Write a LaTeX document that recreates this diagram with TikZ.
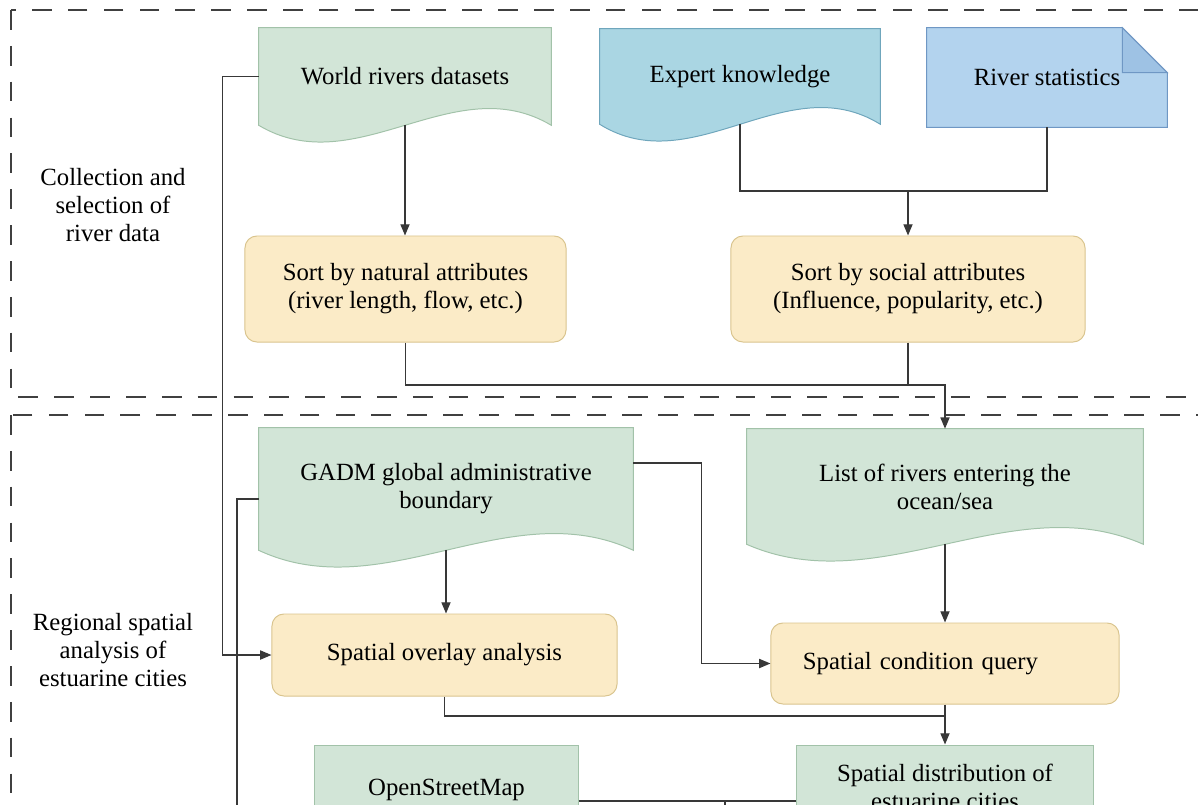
\documentclass[tikz,border=0pt]{standalone}
\usepackage{fontspec}
\setmainfont{Liberation Serif}
\usetikzlibrary{positioning}
\usetikzlibrary{arrows.meta}
\usetikzlibrary{calc}
\usetikzlibrary{backgrounds}
\definecolor{greenfill}{HTML}{D2E5D7}
\definecolor{greenline}{HTML}{A2C2A9}
\definecolor{bluefill}{HTML}{AAD6E3}
\definecolor{blueline}{HTML}{6FA6BC}
\definecolor{statfill}{HTML}{B3D3EE}
\definecolor{statline}{HTML}{6F97C4}
\definecolor{statfold}{HTML}{9EC2E4}
\definecolor{sortfill}{HTML}{FBEBC7}
\definecolor{sortline}{HTML}{D9C48E}
\definecolor{wire}{HTML}{383838}
\tikzset{
    txt/.style = {align=center, font=\fontsize{17.6}{20}\selectfont},
    docnode/.style = {txt, rectangle, inner sep=0pt},
    sortnode/.style = {txt, rectangle, rounded corners=0.3cm, draw=sortline, fill=sortfill, line width=0.7pt},
    mapnode/.style = {txt, rectangle, draw=greenline, fill=greenfill, line width=0.7pt},
    greendoc/.style = {draw=greenline, fill=greenfill, line width=0.7pt},
    bluedoc/.style = {draw=blueline, fill=bluefill, line width=0.7pt},
    statdoc/.style = {draw=statline, fill=statfill, line width=0.7pt},
    edgen/.style = {-{Triangle[length=8pt,width=6.5pt]}, wire, line width=0.9pt},
    edgep/.style = {wire, line width=0.9pt},
    region/.style = {draw=black!75, line width=1.3pt, dash pattern=on 14pt off 11.5pt}
}
% document shape with a wavy bottom, drawn behind node #1
\newcommand{\wavedoc}[2]{%
  \path[#2] (#1.north west) -- (#1.north east) -- (#1.south east)
    .. controls ($(#1.south west)!0.667!(#1.south east)+(0,-58)$)
    and ($(#1.south west)!0.333!(#1.south east)+(0,58)$) .. (#1.south west) -- cycle;}

\begin{document}
\begin{tikzpicture}[x=0.025cm, y=-0.025cm]
\useasboundingbox (0,0) rectangle (1198,804);
\clip (0,0) rectangle (1198,804);

\draw[region] (11,10) rectangle (1240,397);
\draw[region] (11,415) rectangle (1240,900);

\node[txt] at (113, 205) (lab1) {Collection and\\selection of\\river data};
\node[txt] at (113, 650) (lab2) {Regional spatial\\analysis of\\estuarine cities};

\node[docnode, minimum width=7.3cm, minimum height=2.425cm] at (405, 76.5) (wr) {World rivers datasets};
\node[docnode, minimum width=7.0cm, minimum height=2.375cm] at (740, 76.5) (ek) {Expert knowledge};
\node[docnode, minimum width=6.0cm, minimum height=2.475cm] at (1047, 77.5) (rs) {River statistics};
\node[sortnode, minimum width=8.025cm, minimum height=2.65cm] at (405.5, 289) (sn) {Sort by natural attributes\\(river length, flow, etc.)};
\node[sortnode, minimum width=8.85cm, minimum height=2.65cm] at (908, 289) (ss) {Sort by social attributes\\(Influence, popularity, etc.)};
%
\node[docnode, minimum width=9.35cm, minimum height=3.05cm] at (446, 489) (gd) {GADM global administrative\\boundary};
\node[docnode, minimum width=9.9cm, minimum height=2.875cm] at (945, 486.5) (lr) {List of rivers entering the\\ocean/sea};
\node[sortnode, minimum width=8.625cm, minimum height=2.05cm] at (444.5, 655) (so) {Spatial overlay analysis};
\node[sortnode, align=left, text width=7.1cm, inner xsep=0.8cm, minimum height=2.025cm] at (945, 663.5) (sc) {Spatial condition query};
\node[mapnode, minimum width=6.575cm, minimum height=2.25cm] at (446.5, 790) (osm) {OpenStreetMap};
\node[mapnode, minimum width=7.4cm, minimum height=2.1cm] at (945, 787) (sd) {Spatial distribution of\\estuarine cities};

\begin{scope}[on background layer]
\wavedoc{wr}{greendoc}
\wavedoc{ek}{bluedoc}
\wavedoc{gd}{greendoc}
\wavedoc{lr}{greendoc}
\path[statdoc] (rs.north west) -- ($(rs.north east)+(-45,0)$) -- ($(rs.north east)+(0,45)$) -- (rs.south east) -- (rs.south west) -- cycle;
\path[statdoc, fill=statfold] ($(rs.north east)+(-45,0)$) -- ($(rs.north east)+(-45,45)$) -- ($(rs.north east)+(0,45)$) -- cycle;
\end{scope}

% river data
\draw[edgen] (wr.west) -- ++(-36,0) |- (so.west);
\draw[edgen] (wr.south) -- (wr.south |- sn.north);
\coordinate (j1) at (908,191);
\draw[edgep] (ek.south) |- (rs.south |- j1) -- (rs.south);
\draw[edgen] (j1) -- (ss.north);
\coordinate (j2) at (945,385);
\draw[edgen] (sn.south) |- (j2) -- (lr.north);
\draw[edgep] (ss.south) -- (ss.south |- j2);
% estuarine cities
\draw[edgen] ($(gd.east)+(0,-26)$) -- ++(68,0) |- (sc.west);
\draw[edgen] (gd.south) -- (gd.south |- so.north);
\coordinate (j5) at (237,830);
\draw[edgep] ($(gd.west)+(0,10)$) -| (j5);
\draw[edgen] (lr.south) -- (sc.north);
\coordinate (j3) at (945,716);
\draw[edgep] (so.south) |- (j3);
\draw[edgen] (sc.south) -- (sd.north);
\coordinate (j4) at (725,801);
\draw[edgep] (osm.east |- j4) -- (sd.west |- j4);
\draw[edgep] (j4) -- ++(0,12);
\end{tikzpicture}
\end{document}
